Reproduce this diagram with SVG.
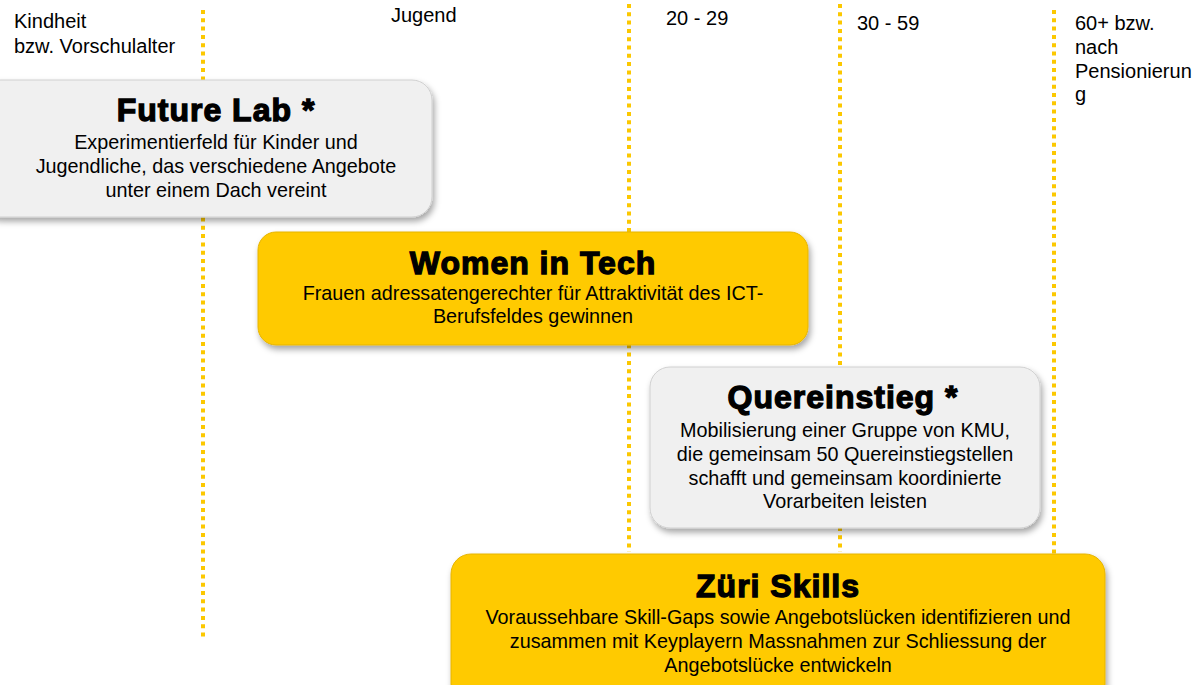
<svg xmlns="http://www.w3.org/2000/svg" width="1195" height="685" viewBox="0 0 1195 685">
<defs>
<filter id="sh" x="-10%" y="-10%" width="125%" height="130%">
<feDropShadow dx="2" dy="4" stdDeviation="3" flood-color="#000" flood-opacity="0.35"/>
</filter>
<style>
.hdr{font-family:"Liberation Sans",Arial,sans-serif;font-size:20px;fill:#000}
.ttl{font-family:"Liberation Sans",Arial,sans-serif;font-size:32px;font-weight:bold;fill:#000;stroke:#000;stroke-width:1.3;letter-spacing:1px;text-anchor:middle}
.bd{font-family:"Liberation Sans",Arial,sans-serif;font-size:19.8px;fill:#000;text-anchor:middle}
.grey{fill:#f0f0f0;stroke:#d0d0d0;stroke-width:1}
.yel{fill:#ffca05;stroke:#e6b400;stroke-width:1}
.dl{stroke:#fcc800;stroke-width:4;stroke-dasharray:4 4.3;fill:none}
</style>
</defs>
<rect width="1195" height="685" fill="#fff"/>
<g id="connectors">
<line class="dl" x1="203" y1="10" x2="203" y2="640"/>
<line class="dl" x1="629" y1="4" x2="629" y2="552"/>
<line class="dl" x1="840" y1="4" x2="840" y2="552"/>
<line class="dl" x1="1054" y1="10" x2="1054" y2="556"/>
</g>
<g id="headers">
<text class="hdr" x="14" y="28">Kindheit</text>
<text class="hdr" x="14" y="53">bzw. Vorschulalter</text>
<text class="hdr" x="391" y="22">Jugend</text>
<text class="hdr" x="666" y="25">20 - 29</text>
<text class="hdr" x="857" y="30">30 - 59</text>
<text class="hdr" x="1075" y="30">60+ bzw.</text>
<text class="hdr" x="1075" y="54">nach</text>
<text class="hdr" x="1075" y="78">Pensionierun</text>
<text class="hdr" x="1075" y="101">g</text>
</g>
<g id="future-lab">
<rect class="grey" x="-20" y="80" width="452" height="137" rx="20" filter="url(#sh)"/>
<text class="ttl" x="216" y="121">Future Lab *</text>
<text class="bd" x="216" y="149">Experimentierfeld für Kinder und</text>
<text class="bd" x="216" y="173">Jugendliche, das verschiedene Angebote</text>
<text class="bd" x="216" y="197">unter einem Dach vereint</text>
</g>
<g id="women-in-tech">
<rect class="yel" x="258" y="232" width="550" height="113" rx="18" filter="url(#sh)"/>
<text class="ttl" x="533" y="274">Women in Tech</text>
<text class="bd" x="533" y="300">Frauen adressatengerechter für Attraktivität  des ICT-</text>
<text class="bd" x="533" y="323">Berufsfeldes gewinnen</text>
</g>
<g id="quereinstieg">
<rect class="grey" x="650" y="367" width="390" height="161" rx="20" filter="url(#sh)"/>
<text class="ttl" x="843" y="408">Quereinstieg  *</text>
<text class="bd" x="845" y="437">Mobilisierung einer Gruppe von KMU,</text>
<text class="bd" x="845" y="461">die gemeinsam 50 Quereinstiegstellen</text>
<text class="bd" x="845" y="485">schafft und gemeinsam koordinierte</text>
<text class="bd" x="845" y="508">Vorarbeiten leisten</text>
</g>
<g id="zueri-skills">
<rect class="yel" x="451" y="554" width="654" height="150" rx="20" filter="url(#sh)"/>
<text class="ttl" x="778" y="597">Züri Skills</text>
<text class="bd" x="778" y="624">Voraussehbare Skill-Gaps sowie Angebotslücken identifizieren und</text>
<text class="bd" x="778" y="648">zusammen mit Keyplayern Massnahmen zur Schliessung der</text>
<text class="bd" x="778" y="672">Angebotslücke entwickeln</text>
</g>
</svg>
